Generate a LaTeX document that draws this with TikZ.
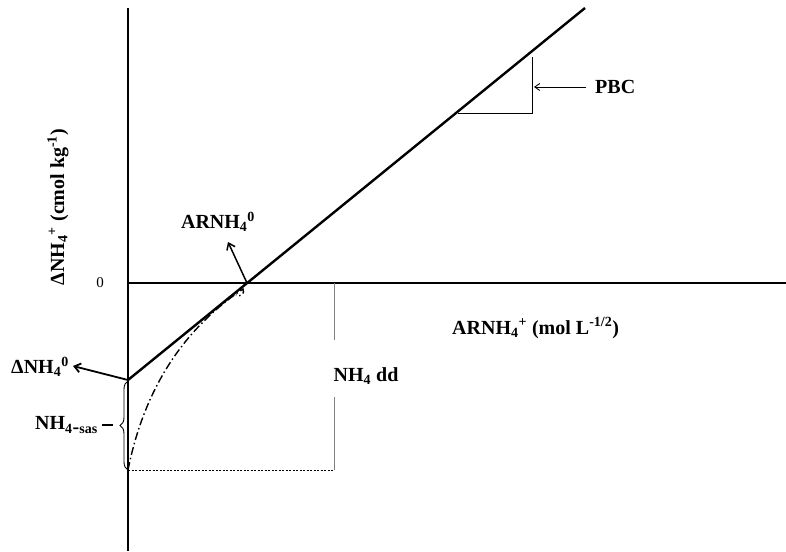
\documentclass[tikz,border=0pt]{standalone}
\usepackage{fontspec}
\setmainfont{Liberation Serif}
\usetikzlibrary{arrows.meta,decorations.pathreplacing}
\begin{document}
\begin{tikzpicture}[x=1pt,y=-1pt,
  axis/.style={line width=2.4pt},
  thinline/.style={line width=0.9pt},
  lbl/.style={font=\bfseries\fontsize{20}{22}\selectfont, inner sep=0pt},
  pointer/.style={line width=1.8pt,-{Straight Barb[length=6pt,width=9pt]}},
  dashdot/.style={line width=1.4pt,dash pattern=on 8pt off 3pt on 1.5pt off 3pt}]
\useasboundingbox (0,0) rectangle (786,551);
% axes
\coordinate (ytop) at (128,8);
\coordinate (ybot) at (128,551);
\coordinate (xl) at (128,283);
\coordinate (xr) at (786,283);
\draw[axis] (ytop) -- (ybot);
\draw[axis] (xl) -- (xr);
% main line
\coordinate (L0) at (128,380);
\coordinate (X0) at (247,283);
\coordinate (Ltop) at (585,8);
\draw[axis] (L0) -- (Ltop);
% PBC triangle
\coordinate (t1) at (458,113);
\coordinate (t2) at (532,113);
\coordinate (t3) at (532,57);
\draw[thinline] (t1) -- (t2) -- (t3);
\node[lbl, anchor=west] (pbc) at (595,87) {PBC};
\coordinate (pbcArrow) at (534,87);
\draw[thinline,-{Straight Barb[length=5pt,width=7pt]}] (586,87) -- (pbcArrow);
% zero label
\node[font=\fontsize{15}{17}\selectfont, inner sep=0pt] (zero) at (100,283) {0};
% y-axis label
\node[lbl, rotate=90] (ylab) at (58,207) {ΔNH\textsubscript{4}\textsuperscript{+} (cmol kg\textsuperscript{-1})};
% x-axis label
\node[lbl, anchor=west] (xlab) at (452,328) {ARNH\textsubscript{4}\textsuperscript{+} (mol L\textsuperscript{-1/2})};
% ARNH4^0
\node[lbl] (arnh) at (218,222) {ARNH\textsubscript{4}\textsuperscript{0}};
\draw[pointer, line width=1.5pt] (X0) -- (228,242);
% Delta NH4^0
\node[lbl] (dnh) at (40,367) {ΔNH\textsubscript{4}\textsuperscript{0}};
\draw[pointer] (L0) -- (73,366);
% brace
\coordinate (b1) at (128,381);
\coordinate (b2) at (128,470);
\draw[thinline, decorate, decoration={brace, amplitude=8pt}] (b2) -- (b1);
\node[lbl, anchor=east] (sas) at (98,425) {NH\textsubscript{4}\raisebox{-0.35ex}{-}\textsubscript{sas}};
\draw[line width=1.2pt] (102,425) -- (113,425);
% dotted line and NH4 dd
\coordinate (d1) at (128,470);
\coordinate (d2) at (334,470);
\draw[line width=1pt, dash pattern=on 2pt off 1.5pt] (d1) -- (d2);
\draw[line width=0.9pt, gray] (d2) -- (334,397);
\draw[line width=0.9pt, gray] (334,283) -- (334,340);
\node[lbl] (dd) at (366,376) {NH\textsubscript{4} dd};
% dash-dot curve
\draw[dashdot] (d1) .. controls (142,400) and (175,335) .. (243,289) .. controls (246,294) and (238,298) .. (236,295);
\end{tikzpicture}
\end{document}
